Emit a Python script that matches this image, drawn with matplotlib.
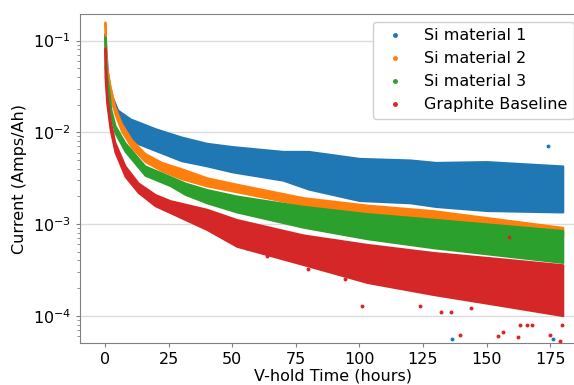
import matplotlib
matplotlib.use('Agg')
import matplotlib.pyplot as plt
from matplotlib.lines import Line2D

# each cloud of points is given by its lower / upper edge
# time in hours, current in Amps/Ah
t_si1 = [0, 1, 2, 3, 5, 10, 20, 30, 40, 50, 70, 80, 100, 120, 130, 150, 180]
lo_si1 = [0.075, 0.035, 0.026, 0.020, 0.0135, 0.0081, 0.0063, 0.0049, 0.0043,
          0.0037, 0.0030, 0.0024, 0.0018, 0.0017, 0.00155, 0.0014, 0.00135]
hi_si1 = [0.12, 0.045, 0.031, 0.024, 0.0175, 0.0140, 0.0109, 0.0089, 0.0076,
          0.0070, 0.0062, 0.0062, 0.0052, 0.0050, 0.0047, 0.0048, 0.0043]

t_si2 = [0, 0.66, 2, 3.9, 6.5, 10.5, 15.7, 22.3, 30.2, 40, 51.8, 78, 103, 129, 180]
lo_si2 = [0.085, 0.042, 0.026, 0.0158, 0.0103, 0.0068, 0.0048, 0.0038, 0.0031,
          0.0026, 0.00224, 0.00160, 0.00130, 0.00112, 0.00074]
hi_si2 = [0.16, 0.053, 0.032, 0.019, 0.0125, 0.0083, 0.0059, 0.0047, 0.0040,
          0.0032, 0.00272, 0.00194, 0.00161, 0.00140, 0.00092]

t_si3 = [0, 0.7, 1.3, 2.4, 4, 7.9, 15.7, 25.6, 31.5, 40, 51.8, 78, 103, 129, 180]
lo_si3 = [0.05, 0.033, 0.025, 0.0145, 0.0098, 0.0062, 0.0034, 0.00262, 0.0021,
          0.0017, 0.00135, 0.00092, 0.00069, 0.00055, 0.00038]
hi_si3 = [0.11, 0.042, 0.032, 0.0175, 0.0118, 0.0077, 0.0043, 0.00330, 0.0028,
          0.00238, 0.00202, 0.00156, 0.00130, 0.00113, 0.00085]

t_gr = [0, 0.66, 2, 3.9, 7.9, 13.1, 19.7, 25.6, 40, 51.8, 78, 103, 129, 155, 180]
lo_gr = [0.04, 0.021, 0.0108, 0.0061, 0.0033, 0.0022, 0.00158, 0.00133, 0.00087,
         0.00057, 0.00036, 0.00023, 0.00017, 0.00013, 0.00010]
hi_gr = [0.083, 0.028, 0.0138, 0.0078, 0.0043, 0.0028, 0.0021, 0.00180, 0.00145,
         0.00112, 0.00076, 0.00060, 0.00049, 0.00042, 0.00036]

# stray points outside the dense clouds
out_si1_t = [174, 136.5, 176]
out_si1_y = [0.0070, 5.5e-5, 5.5e-5]
out_gr_t = [55.7, 63.8, 80, 94.4, 101, 124, 132, 136, 144, 139.6, 156.6,
            162.4, 154.6, 175, 179, 163, 166, 168, 179.6, 159]
out_gr_y = [0.00055, 0.00045, 0.00032, 0.00025, 0.000126, 0.000126,
            0.00011, 0.00011, 0.00012, 6.2e-5, 6.6e-5, 5.8e-5, 6.0e-5, 6.2e-5,
            5.3e-5, 8.0e-5, 7.9e-5, 7.9e-5, 8.0e-5, 0.00072]

labels = ['Si material 1', 'Si material 2', 'Si material 3', 'Graphite Baseline']
colors = ['#1f77b4', '#ff7f0e', '#2ca02c', '#d62728']

plt.rcParams['font.family'] = ['DejaVu Sans']
plt.rcParams['font.size'] = 11.5

fig = plt.figure(figsize=(5.74, 3.85), dpi=100)
ax = fig.add_axes([0.1394, 0.109, 0.881, 0.8546])

bands = [(t_si1, lo_si1, hi_si1), (t_si2, lo_si2, hi_si2),
         (t_si3, lo_si3, hi_si3), (t_gr, lo_gr, hi_gr)]
for (t, lo, hi), c in zip(bands, colors):
    # the edge line stands in for the radius of the dots
    ax.fill_between(t, lo, hi, color=c, edgecolor=c, linewidth=1.4,
                    joinstyle='round', zorder=2)

ax.scatter(out_si1_t, out_si1_y, s=8, color=colors[0], lw=0, zorder=3)
ax.scatter(out_gr_t, out_gr_y, s=8, color=colors[3], lw=0, zorder=3)

ax.set_yscale('log')
ax.set_ylim(5.03e-5, 0.195)
ax.set_xlim(-9.8, 189)
ax.set_xticks([0, 25, 50, 75, 100, 125, 150, 175])

ax.grid(axis='y', which='major', color='#dcdcdc', lw=1, zorder=0)
ax.set_axisbelow(True)
for s in ax.spines.values():
    s.set_color('#808080')
ax.tick_params(which='major', length=3, color='#808080')
ax.tick_params(which='minor', length=2, color='#808080')

ax.set_xlabel('V-hold Time (hours)', labelpad=1)
ax.set_ylabel('Current (Amps/Ah)')

handles = [Line2D([], [], marker='o', ls='', color=c, markersize=2.5) for c in colors]
ax.legend(handles, labels, loc='upper right', bbox_to_anchor=(1.0, 1 - 22 / 385),
          bbox_transform=fig.transFigure, borderaxespad=0, framealpha=1,
          edgecolor='#d0d0d0', fontsize=11.5, handletextpad=0.8)

fig.savefig('out.png', dpi=100)
